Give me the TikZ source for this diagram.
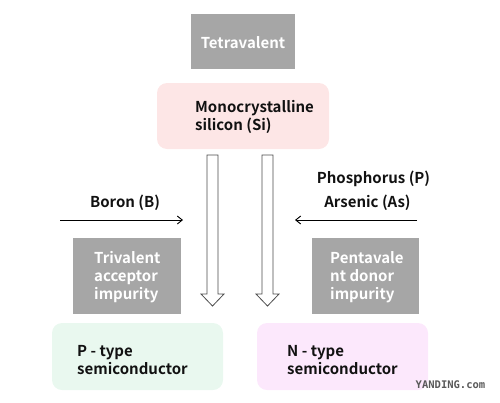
\documentclass[tikz,border=0pt]{standalone}
\usepackage{fontspec}
\setmainfont{Noto Sans CJK SC}[BoldFont={Noto Sans CJK SC Bold}]
\newfontfamily\wmfont{DejaVu Sans Mono}
\usetikzlibrary{arrows.meta}
\definecolor{graybox}{HTML}{A6A6A6}
\definecolor{pinkbox}{HTML}{FDE6E6}
\definecolor{greenbox}{HTML}{E9F8EF}
\definecolor{violetbox}{HTML}{FCE8FC}
\definecolor{txt}{HTML}{111111}
\tikzset{
  graybx/.style={fill=graybox, draw=none, inner sep=0pt},
  roundbx/.style={draw=none, rounded corners=10pt, inner sep=0pt},
  lbl/.style={font=\fontsize{15}{18}\selectfont\bfseries, text=txt, inner sep=0pt, align=left},
  wlbl/.style={font=\fontsize{15}{18}\selectfont\bfseries, text=white, inner sep=0pt, align=left},
  hollow/.style={draw=black!70, fill=white, line width=0.8pt, line join=miter},
  thinarrow/.style={draw=black, line width=0.9pt, -{Straight Barb[length=5pt,width=8pt]}},
}
\begin{document}
\begin{tikzpicture}[x=1pt,y=-1pt]
\useasboundingbox (0,0) rectangle (500,402);
% boxes
\node[graybx, minimum width=104pt, minimum height=55pt] (tetra) at (243,41.5) {};
\node[wlbl, anchor=center] (tetratxt) at (243,43) {Tetravalent};
\node[roundbx, fill=pinkbox, minimum width=172pt, minimum height=66pt] (mono) at (243,116) {};
\node[lbl, anchor=west] (monotxt) at (195,117) {Monocrystalline\\silicon (Si)};
\node[graybx, minimum width=108pt, minimum height=76pt] (tri) at (127,276) {};
\node[wlbl, anchor=west] (tritxt) at (94,277) {Trivalent\\acceptor\\impurity};
\node[graybx, minimum width=107pt, minimum height=76pt] (penta) at (365.5,276) {};
\node[wlbl, anchor=west] (pentatxt) at (330,277) {Pentavale\\nt donor\\impurity};
\node[roundbx, fill=greenbox, minimum width=171pt, minimum height=67pt] (ptype) at (137.5,356.5) {};
\node[lbl, anchor=west] (ptypetxt) at (77,360) {P - type\\semiconductor};
\node[roundbx, fill=violetbox, minimum width=171pt, minimum height=67pt] (ntype) at (342.5,356.5) {};
\node[lbl, anchor=west] (ntypetxt) at (287,360) {N - type\\semiconductor};
% labels of thin arrows
\node[lbl, anchor=center] (boron) at (125,203) {Boron (B)};
\node[lbl, anchor=center] (phos) at (373.5,179) {Phosphorus (P)};
\node[lbl, anchor=center] (arsenic) at (367.5,203) {Arsenic (As)};
% thin arrows
\coordinate (bstart) at (60,220);
\coordinate (bend) at (183,220);
\coordinate (pstart) at (417,220);
\coordinate (pend) at (295,220);
\draw[thinarrow] (bstart) -- (bend);
\draw[thinarrow] (pstart) -- (pend);
% hollow arrows
\draw[hollow] (207,155) -- (218,155) -- (218,294) -- (224,294) -- (212.5,306) -- (201,294) -- (207,294) -- cycle;
\draw[hollow] (262,155) -- (273,155) -- (273,294) -- (279,294) -- (267.5,306) -- (256,294) -- (262,294) -- cycle;
% watermark
\node[font=\wmfont\bfseries\fontsize{10.5}{12}\selectfont, text=black!65, inner sep=0pt] (wm) at (450.5,385) {YANDING.com};
\end{tikzpicture}
\end{document}
